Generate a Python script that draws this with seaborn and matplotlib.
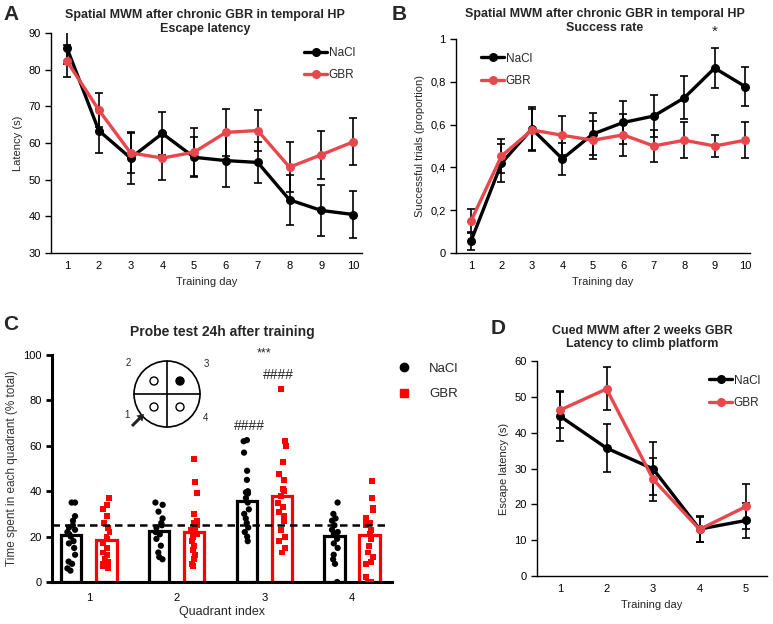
import numpy as np
import pandas as pd
import seaborn as sns
import matplotlib.pyplot as plt
from matplotlib.patches import Circle, FancyArrow
from matplotlib.lines import Line2D
from matplotlib.ticker import FuncFormatter

# ---- data ----
days10 = [1, 2, 3, 4, 5, 6, 7, 8, 9, 10]
a_nacl = [85.9, 63.4, 55.9, 62.6, 56.1, 55.2, 54.7, 44.5, 41.6, 40.5]
a_nacl_err = [4.3, 6.0, 7.0, 5.8, 5.5, 7.3, 5.5, 6.8, 6.9, 6.4]
a_gbr = [82.3, 69.0, 57.3, 55.9, 57.5, 62.9, 63.4, 53.4, 56.8, 60.3]
a_gbr_err = [4.4, 4.6, 5.5, 6.0, 6.5, 6.5, 5.6, 6.8, 6.5, 6.4]

b_nacl = [0.056, 0.42, 0.58, 0.44, 0.556, 0.61, 0.64, 0.725, 0.864, 0.778]
b_nacl_err = [0.04, 0.09, 0.10, 0.075, 0.10, 0.10, 0.10, 0.10, 0.092, 0.092]
b_gbr = [0.15, 0.453, 0.575, 0.55, 0.527, 0.552, 0.50, 0.527, 0.50, 0.527]
b_gbr_err = [0.055, 0.08, 0.10, 0.09, 0.09, 0.097, 0.077, 0.083, 0.053, 0.083]

days5 = [1, 2, 3, 4, 5]
d_nacl = [44.6, 35.7, 29.9, 13.1, 15.5]
d_nacl_err = [7.0, 6.8, 7.4, 3.7, 5.0]
d_gbr = [46.3, 52.2, 27.0, 13.0, 19.4]
d_gbr_err = [5.0, 6.0, 6.0, 3.5, 6.2]

quadrants = ['1', '2', '3', '4']
c_nacl_mean = [20.8, 22.3, 35.9, 20.1]
c_gbr_mean = [18.6, 22.0, 38.0, 20.8]
c_nacl_points = [
    [35, 35, 29, 27, 25, 24, 23, 22, 21, 20, 18, 17, 15, 12, 9, 8, 6, 5],
    [35, 34, 31, 28, 26, 25, 24, 22, 21, 19, 16, 13, 11, 10],
    [62.5, 62, 57, 49, 45, 40, 39.5, 39, 37, 35, 32, 30, 28, 26, 24, 22, 20, 18],
    [35, 30, 28, 27, 25, 23, 22, 21, 19, 17, 15, 12, 10, 8, 0],
]
c_gbr_points = [
    [37, 34, 32, 29, 26, 24, 22, 20, 19, 17, 15, 13, 12, 10, 9, 8, 7, 6],
    [54, 44, 39, 30, 27, 26, 25, 24, 23, 22, 21, 20, 18, 16, 14, 12, 10, 8, 7],
    [85, 62, 60, 53, 47.5, 45, 41, 40, 38, 35, 33, 31, 29, 27, 23, 20, 18, 15, 13],
    [44.5, 37, 32.5, 31.5, 28, 27, 26, 25, 23, 21, 19, 16, 13, 11, 9, 8, 2, 0, 0],
]

line_pal = {'NaCl': 'black', 'GBR': '#e8484d'}
c_pal = {'NaCl': 'black', 'GBR': '#ff0000'}

sns.set_style('white')
plt.rcParams['font.family'] = ['Liberation Sans', 'DejaVu Sans']
plt.rcParams['axes.edgecolor'] = 'black'
plt.rcParams['xtick.color'] = 'black'
plt.rcParams['ytick.color'] = 'black'
np.random.seed(4)

W, H = 773, 624
fig = plt.figure(figsize=(W / 100, H / 100), dpi=100)


def rect(left, right, top, bottom):
    return [left / W, 1 - bottom / H, (right - left) / W, (bottom - top) / H]


def two_line_title(ax, line1, line2, y1, y2, xc):
    # each title line as its own text, positions in figure pixels
    fig.text(xc / W, 1 - y1 / H, line1, ha='center', va='center', fontsize=9, fontweight='bold')
    fig.text(xc / W, 1 - y2 / H, line2, ha='center', va='center', fontsize=9, fontweight='bold')


def line_panel(ax, x, nacl, nacl_err, gbr, gbr_err):
    df = pd.DataFrame({
        'day': x + x,
        'value': nacl + gbr,
        'group': ['NaCl'] * len(x) + ['GBR'] * len(x),
    })
    ax.errorbar(x, nacl, yerr=nacl_err, fmt='none', ecolor='black',
                elinewidth=1.2, capsize=3, capthick=1.2, zorder=1)
    ax.errorbar(x, gbr, yerr=gbr_err, fmt='none', ecolor='black',
                elinewidth=1.2, capsize=3, capthick=1.2, zorder=1)
    sns.lineplot(data=df, x='day', y='value', hue='group', hue_order=['NaCl', 'GBR'],
                 palette=line_pal, marker='o', markersize=6.5, markeredgewidth=0,
                 linewidth=2.4, errorbar=None, legend=False, ax=ax)
    for s in ['top', 'right']:
        ax.spines[s].set_visible(False)
    for s in ['left', 'bottom']:
        ax.spines[s].set_linewidth(1.0)
    ax.set_xticks(x)
    ax.set_xticks([v - 0.5 for v in x] + [x[-1] + 0.5], minor=True)
    ax.tick_params(axis='x', which='major', length=0, labelsize=8, pad=6)
    ax.tick_params(axis='x', which='minor', length=4, width=1, direction='out')
    ax.tick_params(axis='y', length=4, width=1, direction='out', labelsize=8, left=True)
    ax.set_xlabel('Training day', fontsize=8, labelpad=4)
    handles = [Line2D([], [], color=line_pal[g], marker='o', markersize=6.5,
                      markeredgewidth=0, linewidth=2.4) for g in ['NaCl', 'GBR']]
    return handles


# ---- A ----
axA = fig.add_axes(rect(51, 362, 33, 253))
h = line_panel(axA, days10, a_nacl, a_nacl_err, a_gbr, a_gbr_err)
axA.set_xlim(0.497, 10.28)
axA.set_ylim(30, 90)
axA.set_yticks(range(30, 91, 10))
axA.set_ylabel('Latency (s)', fontsize=8)
two_line_title(axA, 'Spatial MWM after chronic GBR in temporal HP', 'Escape latency', 15, 29, 205)
axA.legend(h, ['NaCl', 'GBR'], loc='upper right', bbox_to_anchor=(1.0, 0.97),
           frameon=False, fontsize=8.5, handlelength=2.0, handletextpad=0.1,
           labelspacing=0.9, borderaxespad=0.2)

# ---- B ----
axB = fig.add_axes(rect(456, 750, 39, 253))
h = line_panel(axB, days10, b_nacl, b_nacl_err, b_gbr, b_gbr_err)
axB.set_xlim(0.507, 10.16)
axB.set_ylim(0, 1)
axB.set_yticks([0, 0.2, 0.4, 0.6, 0.8, 1.0])
axB.yaxis.set_major_formatter(FuncFormatter(lambda v, p: ('%g' % round(v, 1)).replace('.', ',')))
axB.set_ylabel('Successful trials (proportion)', fontsize=8)
two_line_title(axB, 'Spatial MWM after chronic GBR in temporal HP', 'Success rate', 14, 28, 605)
axB.legend(h, ['NaCl', 'GBR'], loc='upper left', bbox_to_anchor=(0.06, 0.97),
           frameon=False, fontsize=8.5, handlelength=2.0, handletextpad=0.1,
           labelspacing=0.9, borderaxespad=0.2)
axB.text(9, 1.0, '*', ha='center', va='bottom', fontsize=11, clip_on=False)

# ---- D ----
axD = fig.add_axes(rect(537, 767, 361, 576))
h = line_panel(axD, days5, d_nacl, d_nacl_err, d_gbr, d_gbr_err)
axD.set_xlim(0.505, 5.45)
axD.set_ylim(0, 60)
axD.set_yticks(range(0, 61, 10))
axD.set_ylabel('Escape latency (s)', fontsize=8)
two_line_title(axD, 'Cued MWM after 2 weeks GBR', 'Latency to climb platform', 331, 344, 642)
axD.legend(h, ['NaCl', 'GBR'], loc='upper right', bbox_to_anchor=(1.0, 0.97),
           frameon=False, fontsize=8.5, handlelength=2.0, handletextpad=0.1,
           labelspacing=0.9, borderaxespad=0.2)

# ---- C ----
axC = fig.add_axes(rect(52, 392, 355, 582))
bar_df = pd.DataFrame({
    'quadrant': quadrants * 2,
    'mean': c_nacl_mean + c_gbr_mean,
    'group': ['NaCl'] * 4 + ['GBR'] * 4,
})
nacl_df = pd.DataFrame({
    'quadrant': [q for q, pts in zip(quadrants, c_nacl_points) for _ in pts],
    'value': [v for pts in c_nacl_points for v in pts],
})
nacl_df['group'] = 'NaCl'
gbr_df = pd.DataFrame({
    'quadrant': [q for q, pts in zip(quadrants, c_gbr_points) for _ in pts],
    'value': [v for pts in c_gbr_points for v in pts],
})
gbr_df['group'] = 'GBR'

sns.barplot(data=bar_df, x='quadrant', y='mean', hue='group', order=quadrants,
            hue_order=['NaCl', 'GBR'], palette=c_pal, fill=False, linewidth=2.3,
            width=0.8, gap=0.42, errorbar=None, legend=False, ax=axC)
sns.stripplot(data=nacl_df, x='quadrant', y='value', hue='group', order=quadrants,
              hue_order=['NaCl', 'GBR'], palette=c_pal, dodge=True, marker='o',
              jitter=0.09, size=4.5, legend=False, ax=axC)
sns.stripplot(data=gbr_df, x='quadrant', y='value', hue='group', order=quadrants,
              hue_order=['NaCl', 'GBR'], palette=c_pal, dodge=True, marker='s',
              jitter=0.09, size=4.3, legend=False, ax=axC)
axC.axhline(25, xmax=0.98, color='black', linestyle=(0, (3, 2)), linewidth=1.8, zorder=5)
axC.set_xlim(-0.42, 3.456)
axC.set_ylim(0, 100)
axC.set_yticks(range(0, 101, 20))
for s in ['top', 'right']:
    axC.spines[s].set_visible(False)
for s in ['left', 'bottom']:
    axC.spines[s].set_linewidth(2.2)
axC.tick_params(axis='x', length=0, labelsize=8, pad=8)
axC.tick_params(axis='y', length=4, width=2, direction='out', labelsize=8, left=True)
axC.set_xlabel('Quadrant index', fontsize=9, labelpad=2)
axC.set_ylabel('Time spent in each quadrant (% total)', fontsize=8.5, color='#333333')
axC.set_title('Probe test 24h after training', fontsize=10, fontweight='bold', pad=14)
axC.text(2.0, 100.5, '***', ha='center', va='center', fontsize=9, clip_on=False)
axC.text(2.16, 91, '####', ha='center', va='center', fontsize=10)
axC.text(1.83, 68.7, '####', ha='center', va='center', fontsize=10)
c_handles = [
    Line2D([], [], color='black', marker='o', linestyle='none', markersize=6),
    Line2D([], [], color='#ff0000', marker='s', linestyle='none', markersize=6),
]
axC.legend(c_handles, ['NaCl', 'GBR'], loc='upper left', bbox_to_anchor=(1.0, 0.99),
           frameon=False, fontsize=9.5, handlelength=1.0, handletextpad=1.4,
           labelspacing=1.0, borderaxespad=0.0)

# inset maze drawing
axI = fig.add_axes(rect(117, 217, 349, 439))
axI.set_xlim(-50, 50)
axI.set_ylim(-45, 45)
axI.axis('off')
axI.add_patch(Circle((0, 0), 33, fill=False, lw=1.2, color='black'))
axI.plot([0, 0], [-33, 33], color='black', lw=1.2)
axI.plot([-33, 33], [0, 0], color='black', lw=1.2)
for cx, cy, filled in [(-13, 13, False), (13, 13, True), (-13, -13, False), (13, -13, False)]:
    axI.add_patch(Circle((cx, cy), 4, fill=filled, facecolor='black',
                         edgecolor='black', lw=1.0))
for lab, tx, ty in [('2', -39, 31), ('3', 39, 30), ('1', -40, -21), ('4', 39, -24)]:
    axI.text(tx, ty, lab, ha='center', va='center', fontsize=7)
axI.add_patch(FancyArrow(-35, -32, 12, 12, width=3, head_width=8.5, head_length=6.5,
                         length_includes_head=True, color='#222222', lw=0))

# panel letters
for lab, px, py in [('A', 3, 14), ('B', 392, 14), ('C', 3, 324), ('D', 491, 328)]:
    fig.text(px / W, 1 - py / H, lab, fontsize=15, fontweight='bold', va='center')

fig.savefig('out.png', dpi=100)
